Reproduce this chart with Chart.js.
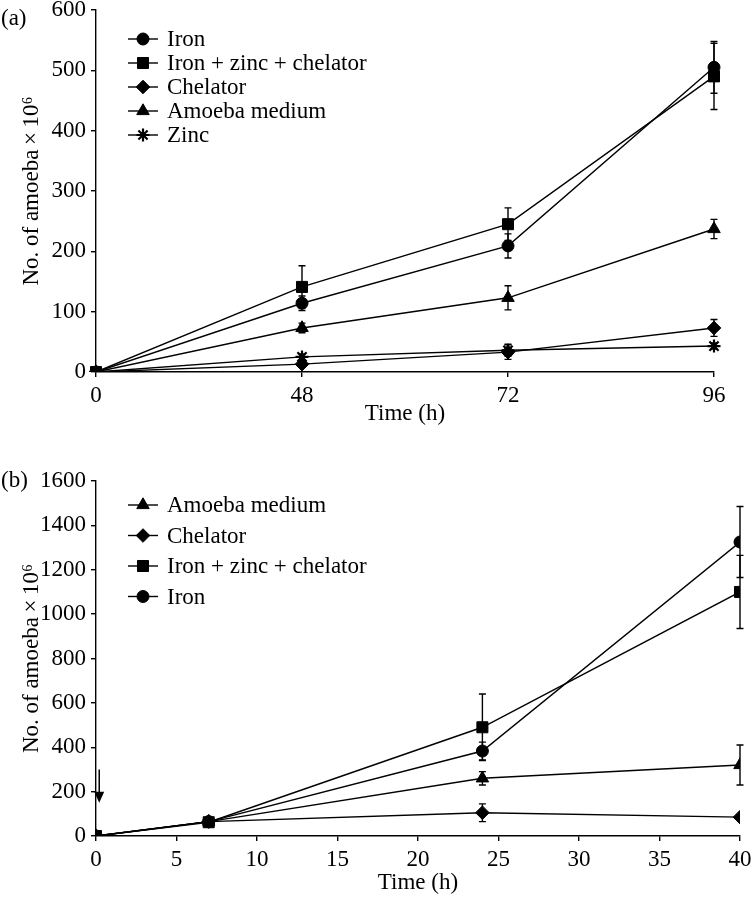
<!DOCTYPE html>
<html><head><meta charset="utf-8">
<script src="https://cdn.jsdelivr.net/npm/chart.js@4.4.0/dist/chart.umd.min.js"></script>
<style>
html,body{margin:0;padding:0;background:#fff;}
#wrap{position:relative;width:752px;height:899px;}
#ca{position:absolute;left:0;top:0;}
#cb{position:absolute;left:0;top:440px;}
</style></head>
<body><div id="wrap">
<div id="ca" style="width:752px;height:440px"><canvas id="chartA"></canvas></div>
<div id="cb" style="width:752px;height:459px"><canvas id="chartB"></canvas></div>
</div>
<script>
// ---- Panel (a) data ----
const timeA = ['0', '48', '72', '96'];
const ironA = [0, 114, 209, 505];
const ironAErr = [0, 12, 20, 43];
const izcA = [0, 141, 245, 490];
const izcAErr = [0, 35, 27, 55];
const chelA = [0, 13, 33, 73];
const chelAErr = [0, 5, 12, 14];
const amoebaA = [0, 73, 123, 237];
const amoebaAErr = [0, 8, 20, 16];
const zincA = [0, 25, 36, 43];
const zincAErr = [0, 5, 10, 5];

// ---- Panel (b) data ----
const timeB = [0, 7, 24, 40];
const amoebaB = [0, 65, 260, 320];
const amoebaBErr = [0, 15, 30, 90];
const chelB = [0, 65, 105, 85];
const chelBErr = [0, 15, 40, 0];
const izcB = [0, 62, 490, 1100];
const izcBErr = [0, 15, 150, 165];
const ironB = [0, 65, 383, 1325];
const ironBErr = [0, 15, 40, 160];

const FONT = '"Liberation Serif", "DejaVu Serif", serif';
const FS = 23;
const YTITLE = 'No. of amoeba\u2009\u00d7\u200910\u2076';
const RAD = {circle: 6, rect: 7.8, rectRot: 6.8, triangle: 7.2, star: 6.5};

function ds(label, data, err, style, xs) {
  return {
    label: label,
    data: xs ? data.map((v, i) => ({x: xs[i], y: v})) : data,
    errors: err,
    pointStyle: style,
    borderColor: '#000', backgroundColor: '#000',
    pointBackgroundColor: '#000', pointBorderColor: '#000',
    borderWidth: 1.4, pointRadius: RAD[style],
    pointBorderWidth: style === 'star' ? 2.2 : 1,
    tension: 0
  };
}

const errPlugin = {
  id: 'errbars',
  afterDatasetsDraw(chart) {
    const ctx = chart.ctx, ys = chart.scales.y;
    ctx.save();
    ctx.strokeStyle = '#000'; ctx.lineWidth = 1.4;
    chart.data.datasets.forEach((d, di) => {
      const meta = chart.getDatasetMeta(di);
      meta.data.forEach((p, i) => {
        const e = d.errors[i];
        if (!e) return;
        const v = typeof d.data[i] === 'object' ? d.data[i].y : d.data[i];
        const y1 = ys.getPixelForValue(v + e), y2 = ys.getPixelForValue(v - e);
        ctx.beginPath();
        ctx.moveTo(p.x, y1); ctx.lineTo(p.x, y2);
        ctx.moveTo(p.x - 3.5, y1); ctx.lineTo(p.x + 3.5, y1);
        ctx.moveTo(p.x - 3.5, y2); ctx.lineTo(p.x + 3.5, y2);
        ctx.stroke();
      });
    });
    ctx.restore();
  }
};

const legendPlugin = {
  id: 'customLegend',
  afterDraw(chart, args, opts) {
    const ctx = chart.ctx;
    ctx.save();
    ctx.font = FS + 'px ' + FONT;
    ctx.textBaseline = 'middle';
    ctx.fillStyle = '#000'; ctx.strokeStyle = '#000';
    chart.data.datasets.forEach((d, i) => {
      const y = opts.y + i * opts.dy;
      ctx.lineWidth = 1.4;
      ctx.beginPath(); ctx.moveTo(opts.x, y); ctx.lineTo(opts.x + 30, y); ctx.stroke();
      ctx.lineWidth = d.pointBorderWidth;
      Chart.helpers.drawPoint(ctx, {pointStyle: d.pointStyle, rotation: 0, radius: d.pointRadius, borderWidth: d.pointBorderWidth}, opts.x + 15, y);
      ctx.fillText(d.label, opts.x + 39, y + 1);
    });
    ctx.textBaseline = 'middle';
    ctx.fillText(opts.tag, 1, opts.tagY);
    ctx.restore();
  }
};

const arrowPlugin = {
  id: 'arrow',
  afterDraw(chart, args, opts) {
    if (!opts.show) return;
    const ctx = chart.ctx, xs = chart.scales.x, ys = chart.scales.y;
    const x = xs.getPixelForValue(opts.x);
    const yTop = ys.getPixelForValue(opts.from), yTip = ys.getPixelForValue(opts.to);
    ctx.save();
    ctx.strokeStyle = '#000'; ctx.fillStyle = '#000'; ctx.lineWidth = 1.5;
    ctx.beginPath(); ctx.moveTo(x, yTop); ctx.lineTo(x, yTip - 8); ctx.stroke();
    ctx.beginPath(); ctx.moveTo(x - 5, yTip - 11); ctx.lineTo(x + 5, yTip - 11); ctx.lineTo(x, yTip); ctx.closePath(); ctx.fill();
    ctx.restore();
  }
};

function axisCommon(extra) {
  return Object.assign({
    border: {display: true, color: '#000', width: 1.4},
    grid: {display: true, drawOnChartArea: false, drawTicks: true, tickLength: 5, color: '#000', lineWidth: 1.4},
  }, extra);
}
function tickOpts(step) {
  const t = {color: '#000', font: {family: FONT, size: FS}, padding: 5, autoSkip: false, maxRotation: 0};
  if (step) { t.stepSize = step; t.callback = v => String(v); }
  return t;
}
function titleOpts(text, pad) {
  return {display: true, text: text, color: '#000', font: {family: FONT, size: FS}, padding: pad};
}
function fitX(h) { return s => { s.height = h; s.paddingLeft = 0; s.paddingRight = 0; }; }
function fitY(w) { return s => { s.width = w; s.paddingTop = 0; s.paddingBottom = 0; }; }

Chart.defaults.animation = false;

new Chart(document.getElementById('chartA'), {
  type: 'line',
  data: {
    labels: timeA,
    datasets: [
      ds('Iron', ironA, ironAErr, 'circle'),
      ds('Iron + zinc + chelator', izcA, izcAErr, 'rect'),
      ds('Chelator', chelA, chelAErr, 'rectRot'),
      ds('Amoeba medium', amoebaA, amoebaAErr, 'triangle'),
      ds('Zinc', zincA, zincAErr, 'star')
    ]
  },
  options: {
    responsive: true, maintainAspectRatio: false, animation: false,
    layout: {padding: {left: 0, top: 10, right: 38, bottom: 0}},
    plugins: {legend: {display: false}, tooltip: {enabled: false},
      customLegend: {x: 128, y: 39, dy: 24, tag: '(a)', tagY: 19},
      arrow: {show: false}},
    scales: {
      x: axisCommon({type: 'category', offset: false, ticks: tickOpts(0),
        title: titleOpts('Time (h)', {top: 0, bottom: 12}),
        afterFit: fitX(68)}),
      y: axisCommon({min: 0, max: 600, ticks: tickOpts(100),
        title: titleOpts(YTITLE, {top: 18, bottom: 0}),
        afterFit: fitY(96)})
    }
  },
  plugins: [errPlugin, legendPlugin, arrowPlugin]
});

new Chart(document.getElementById('chartB'), {
  type: 'line',
  data: {
    datasets: [
      ds('Amoeba medium', amoebaB, amoebaBErr, 'triangle', timeB),
      ds('Chelator', chelB, chelBErr, 'rectRot', timeB),
      ds('Iron + zinc + chelator', izcB, izcBErr, 'rect', timeB),
      ds('Iron', ironB, ironBErr, 'circle', timeB)
    ]
  },
  options: {
    responsive: true, maintainAspectRatio: false, animation: false,
    layout: {padding: {left: 0, top: 41, right: 12, bottom: 0}},
    plugins: {legend: {display: false}, tooltip: {enabled: false},
      customLegend: {x: 128, y: 65, dy: 30.5, tag: '(b)', tagY: 41},
      arrow: {show: true, x: 0.2, from: 300, to: 150}},
    scales: {
      x: axisCommon({type: 'linear', min: 0, max: 40, ticks: tickOpts(5),
        title: titleOpts('Time (h)', {top: 0, bottom: 2}),
        afterFit: fitX(63)}),
      y: axisCommon({min: 0, max: 1600, ticks: tickOpts(200),
        title: titleOpts(YTITLE, {top: 18, bottom: 0}),
        afterFit: fitY(96)})
    }
  },
  plugins: [errPlugin, legendPlugin, arrowPlugin]
});
</script>
</body></html>
